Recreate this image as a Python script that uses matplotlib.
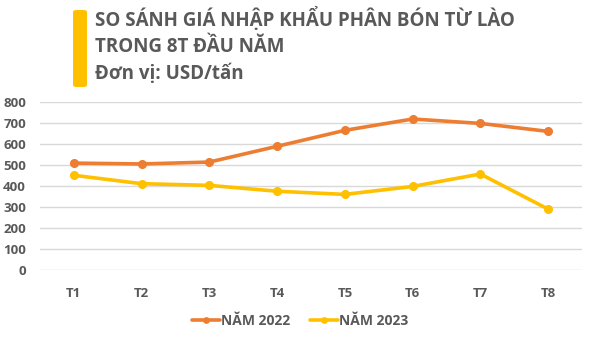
import matplotlib
matplotlib.use("Agg")
import matplotlib.pyplot as plt
from matplotlib.patches import FancyBboxPatch

months = ["T1", "T2", "T3", "T4", "T5", "T6", "T7", "T8"]
y2022 = [509, 505, 514, 589, 665, 719, 698, 660]
y2023 = [451, 411, 403, 375, 360, 398, 457, 290]
yticks = [0, 100, 200, 300, 400, 500, 600, 700, 800]

C22 = "#ED7D31"
C23 = "#FFC000"
TXT = "#595959"
plt.rcParams['font.family'] = ['Open Sans', 'DejaVu Sans']

fig = plt.figure(figsize=(5.97, 3.45), dpi=100)
W, H = 597, 345
ax = fig.add_axes([40 / W, (H - 270) / H, (582 - 40) / W, (270 - 102) / H])

x = list(range(len(months)))
ax.plot(x, y2022, color=C22, lw=2.6, marker="o", ms=5.5, label="NĂM 2022", solid_capstyle="round")
ax.plot(x, y2023, color=C23, lw=2.6, marker="o", ms=5.5, label="NĂM 2023", solid_capstyle="round")

ax.set_xlim(-0.5, len(months) - 0.5)
ax.set_ylim(0, 800)
ax.set_yticks(yticks)
ax.set_yticklabels([str(v) for v in yticks])
ax.set_xticks(x)
ax.set_xticklabels(months)
ax.grid(axis="y", color="#D9D9D9", lw=1)
ax.set_axisbelow(True)
for s in ax.spines.values():
    s.set_visible(False)
ax.tick_params(length=0, colors=TXT, labelsize=9.5)
for lab in ax.get_xticklabels() + ax.get_yticklabels():
    lab.set_fontweight("bold")
    lab.set_color(TXT)
ax.tick_params(axis="x", pad=12)
ax.tick_params(axis="y", pad=10)

leg = fig.legend(loc="center", bbox_to_anchor=(300 / W, (H - 321) / H), ncol=2, frameon=False,
                 prop={"weight": "bold", "size": 10}, handlelength=2.0, columnspacing=1.4,
                 handletextpad=0.1, markerscale=0.7)
for t in leg.get_texts():
    t.set_color(TXT)

# title bar
bar = FancyBboxPatch((73 / W, (H - 87) / H), 14 / W, 77 / H,
                     boxstyle="round,pad=0,rounding_size=0.006",
                     transform=fig.transFigure, color=C23, lw=0)
fig.patches.append(bar)
for i, t in enumerate(["SO SÁNH GIÁ NHẬP KHẨU PHÂN BÓN TỪ LÀO", "TRONG 8T ĐẦU NĂM", "Đơn vị: USD/tấn"]):
    fig.text(95 / W, (H - (19 + 27.5 * i)) / H, t, fontsize=13.5, fontweight="bold",
             color=TXT, va="center", ha="left")

fig.savefig("out.png", dpi=100)
